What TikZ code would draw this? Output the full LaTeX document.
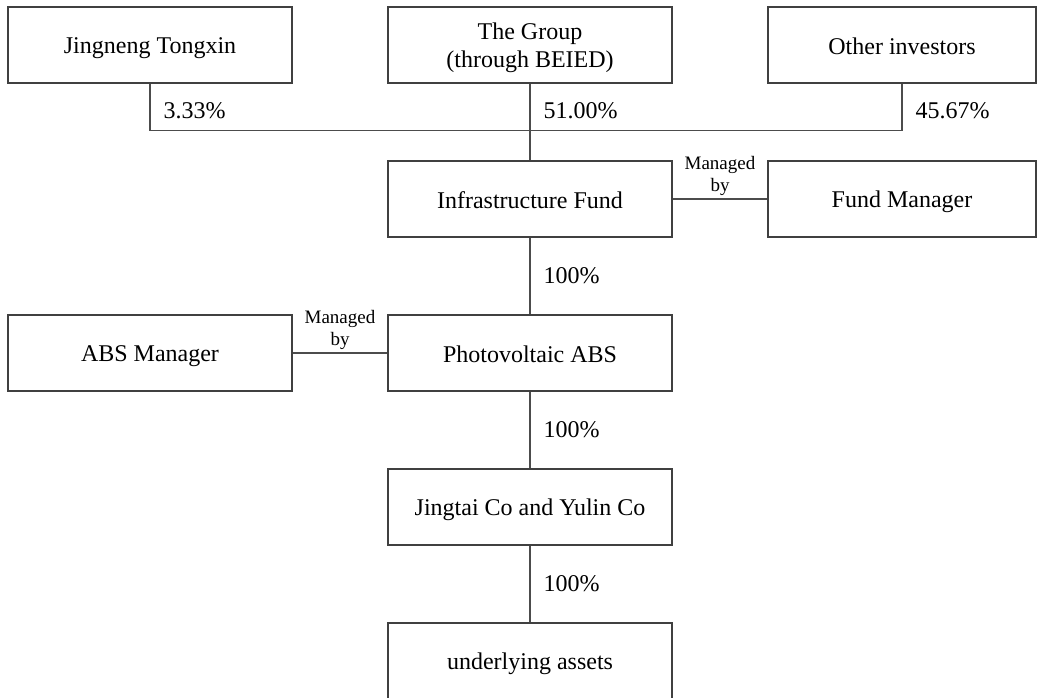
\documentclass[tikz,border=0pt]{standalone}
\usepackage{fontspec}
\setmainfont{Liberation Serif}
\usetikzlibrary{positioning}
\newcommand{\boxstrut}{\rule[-2pt]{0pt}{13pt}}
\tikzstyle{box} = [draw=black!75, line width=0.7pt, minimum width=142pt, minimum height=38pt, align=center, font=\fontsize{12}{14}\selectfont]
\tikzstyle{link} = [draw=black!70, line width=0.7pt]
\tikzstyle{pct} = [right, inner sep=0pt, xshift=6.5pt, font=\fontsize{12}{14}\selectfont]
\tikzstyle{mgd} = [above, inner sep=1.5pt, align=center, font=\fontsize{9.5}{11}\selectfont]

\begin{document}
\begin{tikzpicture}
        \useasboundingbox (0,0) rectangle (521pt,-348.5pt);
        \node[box] (jt) at (75pt,-22.5pt) {\boxstrut Jingneng Tongxin};
        \node[box, right=47.3pt of jt] (grp) {\boxstrut The Group\\(through BEIED)};
        \node[box, right=47.3pt of grp, minimum width=134pt] (oth) {\boxstrut Other investors};
        \node[box, below=38.3pt of grp] (fund) {\boxstrut Infrastructure Fund};
        \node[box, minimum width=134pt] (fmgr) at (fund -| oth) {\boxstrut Fund Manager};
        \node[box, below=38.3pt of fund] (pv) {\boxstrut Photovoltaic ABS};
        \node[box] (absm) at (pv -| jt) {\boxstrut ABS Manager};
        \node[box, below=38.3pt of pv] (jy) {\boxstrut Jingtai Co and Yulin Co};
        \node[box, below=38.3pt of jy] (ua) {\boxstrut underlying assets};
        \draw[link] (jt.south) -- node[pct, pos=0.57]{3.33\%} ++(0,-23.5pt) -| (oth.south);
        \draw[link] (oth.south) -- node[pct, pos=0.57]{45.67\%} ++(0,-23.5pt);
        \draw[link] (grp.south) -- node[pct, pos=0.35]{51.00\%} (fund.north);
        \draw[link] (fund.east) -- node[mgd]{Managed\\by} (fmgr.west);
        \draw[link] (absm.east) -- node[mgd]{Managed\\by} (pv.west);
        \draw[link] (fund) -- node[pct]{100\%} (pv);
        \draw[link] (pv) -- node[pct]{100\%} (jy);
        \draw[link] (jy) -- node[pct]{100\%} (ua);
    \end{tikzpicture}
\end{document}
